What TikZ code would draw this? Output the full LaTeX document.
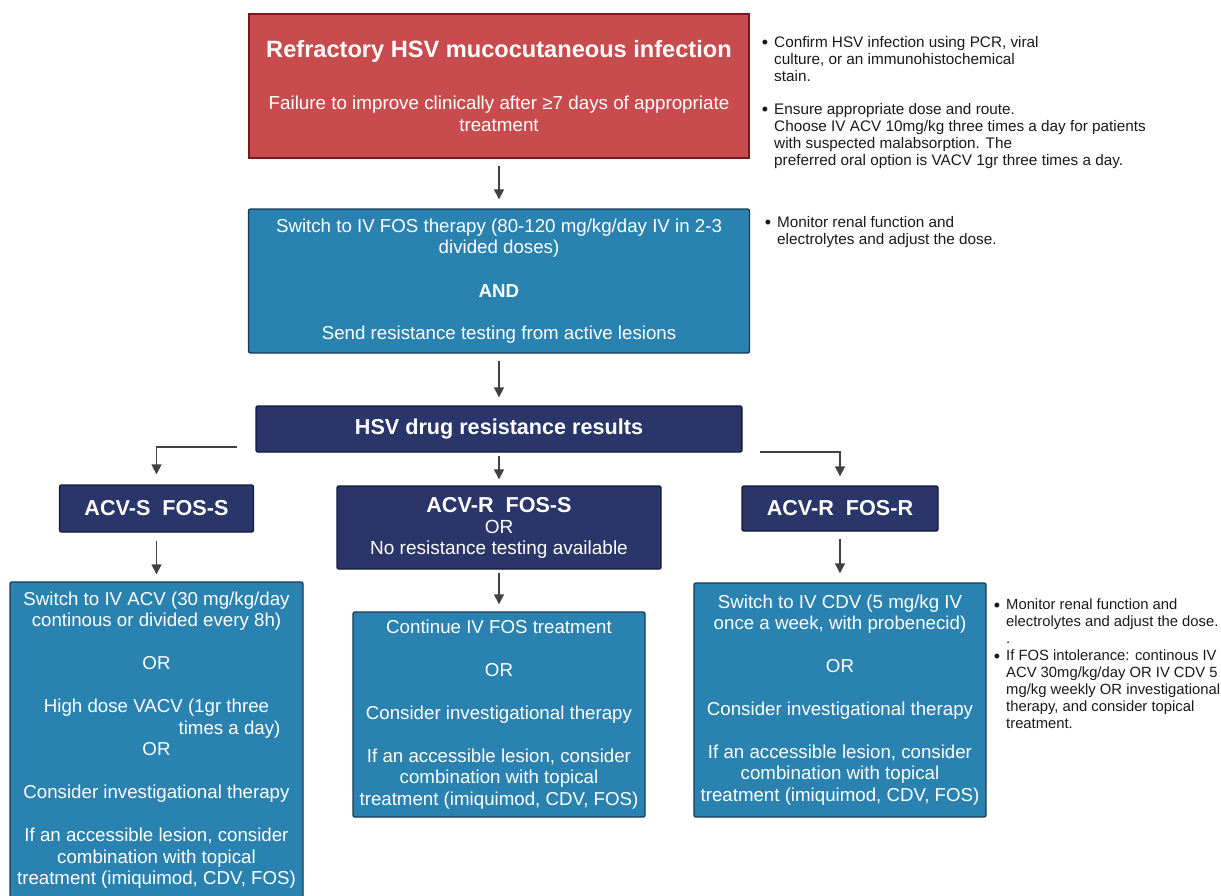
\documentclass[tikz,border=0pt]{standalone}
\usepackage{fontspec}
\setmainfont{Liberation Sans}
\usepackage{xcolor}
\usepackage{tikz}
\usetikzlibrary{arrows.meta, positioning, calc}
\definecolor{myred}{RGB}{200,76,77}
\definecolor{myredline}{RGB}{125,22,28}
\definecolor{myblue}{RGB}{42,130,176}
\definecolor{mybluline}{RGB}{28,58,82}
\definecolor{mynavy}{RGB}{42,53,105}
\definecolor{mynavline}{RGB}{20,26,58}
\definecolor{mygray}{RGB}{65,65,65}
\definecolor{mytext}{RGB}{25,25,25}
\tikzset{
  redbox/.style={rectangle, draw=myredline, fill=myred, text=white,
    align=center, line width=1.6pt, inner sep=0pt,
    font=\fontsize{18.8}{21.5}\selectfont},
  bluebox/.style={rectangle, draw=mybluline, fill=myblue, text=white,
    align=center, line width=1.4pt, rounded corners=2pt, inner sep=0pt,
    font=\fontsize{18.7}{21.5}\selectfont},
  navybox/.style={rectangle, draw=mynavline, fill=mynavy, text=white,
    align=center, line width=1.4pt, rounded corners=2pt, inner sep=0pt,
    font=\fontsize{19}{21}\selectfont},
  note/.style={align=left, text=mytext, inner sep=0pt,
    font=\fontsize{15.3}{17}\selectfont},
  arrow/.style={-{Triangle[length=10pt, width=10pt]}, line width=1.5pt, color=mygray}
}
\newcommand{\bul}{\llap{\raisebox{-1.6pt}{\fontsize{18}{17}\selectfont\textbullet}\hspace{6pt}}}

\begin{document}
\begin{tikzpicture}[x=1pt, y=-1pt]
  \useasboundingbox (0,0) rectangle (1221,895);

  % Top boxes
  \node[redbox, minimum width=500pt, minimum height=144pt] (refr) at (499,86)
    {{\bfseries\fontsize{23.6}{24}\selectfont Refractory HSV mucocutaneous infection}\\[31pt]
     Failure to improve clinically after ≥7 days of appropriate\\treatment};
  \node[bluebox, minimum width=501pt, minimum height=144pt] (fos) at (499,281)
    {Switch to IV FOS therapy (80-120 mg/kg/day IV in 2-3\\divided doses)\\[22pt]
     \textbf{AND}\\[20.5pt]Send resistance testing from active lesions};

  % Resistance results
  \node[navybox, minimum width=486pt, minimum height=46pt] (res) at (499,429)
    {\bfseries\fontsize{21.6}{22}\selectfont HSV drug resistance results};
  \node[navybox, minimum width=194pt, minimum height=47pt] (acvss) at (156.5,508.5)
    {\bfseries\fontsize{21.6}{22}\selectfont ACV-S\ \ FOS-S};
  \node[navybox, minimum width=324pt, minimum height=83pt] (acvrs) at (499,527.5)
    {{\bfseries\fontsize{21.6}{22}\selectfont ACV-R\ \ FOS-S}\\OR\\No resistance testing available};
  \node[navybox, minimum width=196pt, minimum height=45pt] (acvrr) at (840,508.5)
    {\bfseries\fontsize{21.6}{22}\selectfont ACV-R\ \ FOS-R};

  % Treatment boxes
  \node[bluebox, minimum width=293pt, minimum height=316pt] (acvtx) at (156.5,740)
    {Switch to IV ACV (30 mg/kg/day\\continous or divided every 8h)\\[21pt]
     OR\\[22pt]High dose VACV (1gr three\\\hspace*{146pt}times a day)\\OR\\[21.5pt]
     Consider investigational therapy\\[21.5pt]
     If an accessible lesion, consider\\combination with topical\\treatment (imiquimod, CDV, FOS)};
  \node[bluebox, minimum width=292pt, minimum height=205pt] (fostx) at (499,714.5)
    {Continue IV FOS treatment\\[21.5pt]OR\\[21.5pt]Consider investigational therapy\\[21.5pt]
     If an accessible lesion, consider\\combination with topical\\treatment (imiquimod, CDV, FOS)};
  \node[bluebox, minimum width=292pt, minimum height=234pt] (cdvtx) at (840,700)
    {Switch to IV CDV (5 mg/kg IV\\once a week, with probenecid)\\[21pt]OR\\[21.5pt]
     Consider investigational therapy\\[21.5pt]
     If an accessible lesion, consider\\combination with topical\\treatment (imiquimod, CDV, FOS)};

  % Side notes
  \node[note, anchor=north west] (note1) at (774,36)
    {\bul Confirm HSV infection using PCR, viral\\culture, or an immunohistochemical\\stain.\\[16pt]
     \bul Ensure appropriate dose and route.\\Choose IV ACV 10mg/kg three times a day for patients\\
     with suspected malabsorption. The\\preferred oral option is VACV 1gr three times a day.};
  \node[note, anchor=north west] (note2) at (777,216)
    {\bul Monitor renal function and\\electrolytes and adjust the dose.};
  \node[note, anchor=north west, font=\fontsize{14.8}{17}\selectfont] (note3) at (1006,599)
    {\bul Monitor renal function and\\electrolytes and adjust the dose.\\.\\
     \bul If FOS intolerance: continous IV\\ACV 30mg/kg/day OR IV CDV 5\\
     mg/kg weekly OR investigational\\therapy, and consider topical\\treatment.};

  % Connectors
  \coordinate (lstart) at (237,447);
  \coordinate (rstart) at (760,452);
  \draw[arrow, shorten <=7pt, shorten >=9pt] (refr.south) -- (fos.north);
  \draw[arrow, shorten <=7pt, shorten >=8pt] (fos.south) -- (res.north);
  \draw[arrow, shorten >=10pt] (lstart) -| (acvss.north);
  \draw[arrow, shorten <=3pt, shorten >=6pt] (res.south) -- (acvrs.north);
  \draw[arrow, shorten >=9pt] (rstart) -| (acvrr.north);
  \draw[arrow, shorten <=8pt, shorten >=7pt] (acvss.south) -- (acvtx.north);
  \draw[arrow, shorten <=3pt, shorten >=7pt] (acvrs.south) -- (fostx.north);
  \draw[arrow, shorten <=7pt, shorten >=9pt] (acvrr.south) -- (cdvtx.north);
\end{tikzpicture}
\end{document}
